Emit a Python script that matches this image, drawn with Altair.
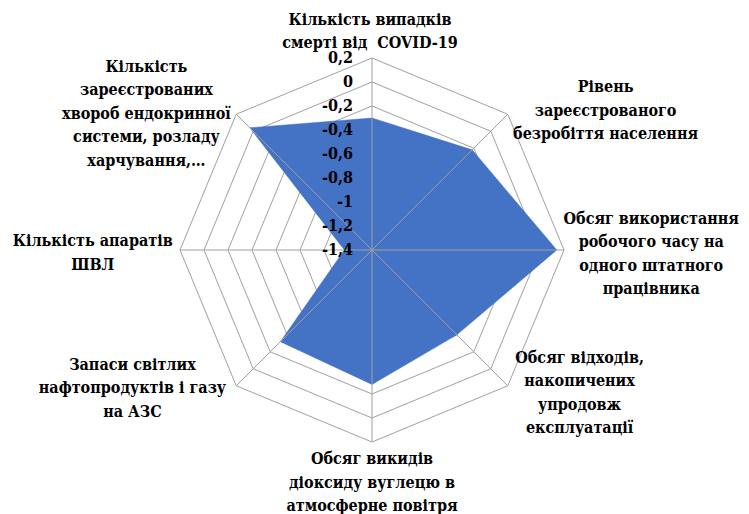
import math
import altair as alt
import pandas as pd

# ---------------- data ----------------
CATEGORIES = [
    "Кількість випадків\nсмерті від\u00a0 COVID-19",
    "Рівень\nзареєстрованого\nбезробіття населення",
    "Обсяг використання\nробочого часу на\nодного штатного\nпрацівника",
    "Обсяг відходів,\nнакопичених\nупродовж\nексплуатації",
    "Обсяг викидів\nдіоксиду вуглецю в\nатмосферне повітря",
    "Запаси світлих\nнафтопродуктів і газу\nна АЗС",
    "Кількість апаратів\nШВЛ",
    "Кількість\nзареєстрованих\nхвороб ендокринної\nсистеми, розладу\nхарчування,…",
]
VALUES = [-0.30, -0.22, 0.14, -0.40, -0.28, -0.32, -1.17, 0.04]
TICKS = [0.2, 0, -0.2, -0.4, -0.6, -0.8, -1, -1.2, -1.4]
R_MIN, R_MAX = -1.4, 0.2

# ---------------- layout / style ----------------
W, H = 733, 506
CX, CY = 364, 242          # centre of the radar in plot pixels
RAD = 192                  # outer ring radius in pixels
FILL = "#4472C4"
GRID = "#A0A0A0"
FONT = "DejaVu Serif Condensed"
FS = 16
LH = 23.5
LABEL_RX, LABEL_RY = 1.47, 1.18
# pixel nudges of label block centres (layout only)
LABEL_NUDGE = [(-2, 8), (34, 21), (-3, 4), (8, -17), (0, 6), (-40, -22), (3, 3), (-26, 24)]

N = len(CATEGORIES)
xdom = [-CX / RAD, (W - CX) / RAD]
ydom = [-(H - CY) / RAD, CY / RAD]
xs = alt.Scale(domain=xdom, nice=False, zero=False)
ys = alt.Scale(domain=ydom, nice=False, zero=False)
noax = None

# polygon data (closed)
poly = pd.DataFrame({
    "i": list(range(N)) + [N],
    "v": VALUES + [VALUES[0]],
})
poly_chart = alt.Chart(poly).transform_calculate(
    r=f"(datum.v - ({R_MIN})) / ({R_MAX} - ({R_MIN}))",
    a=f"datum.i * 2 * PI / {N}",
).transform_calculate(
    px="datum.r * sin(datum.a)", py="datum.r * cos(datum.a)"
).mark_line(fill=FILL, stroke=FILL, strokeWidth=0.5, interpolate="linear").encode(
    x=alt.X("px:Q", scale=xs, axis=noax),
    y=alt.Y("py:Q", scale=ys, axis=noax),
    order="i:Q",
)

# ring data
rings = pd.DataFrame([
    {"t": t, "k": k} for t in TICKS for k in range(N + 1)
])
ring_chart = alt.Chart(rings).transform_calculate(
    r=f"(datum.t - ({R_MIN})) / ({R_MAX} - ({R_MIN}))",
    a=f"datum.k * 2 * PI / {N}",
).transform_calculate(
    px="datum.r * sin(datum.a)", py="datum.r * cos(datum.a)"
).mark_line(color=GRID, strokeWidth=1).encode(
    x=alt.X("px:Q", scale=xs, axis=noax),
    y=alt.Y("py:Q", scale=ys, axis=noax),
    detail="t:N",
    order="k:Q",
)

# spokes
spokes = pd.DataFrame({"k": list(range(N))})
spoke_chart = alt.Chart(spokes).transform_calculate(
    a=f"datum.k * 2 * PI / {N}",
    x0="0", y0="0",
).transform_calculate(
    x1="sin(datum.a)", y1="cos(datum.a)"
).mark_rule(color=GRID, strokeWidth=1).encode(
    x=alt.X("x0:Q", scale=xs, axis=noax),
    y=alt.Y("y0:Q", scale=ys, axis=noax),
    x2="x1:Q", y2="y1:Q",
)

# tick labels
tick_df = pd.DataFrame({
    "t": TICKS,
    "lab": [f"{t:g}".replace(".", ",") for t in TICKS],
})
tick_chart = alt.Chart(tick_df).transform_calculate(
    py=f"(datum.t - ({R_MIN})) / ({R_MAX} - ({R_MIN}))",
    px="0",
).mark_text(align="right", baseline="middle", dx=-19, font=FONT, fontSize=FS,
            fontWeight="bold", color="#000000").encode(
    x=alt.X("px:Q", scale=xs, axis=noax),
    y=alt.Y("py:Q", scale=ys, axis=noax),
    text="lab:N",
)

# category labels (first-line anchor so that the block is centred)
lab_rows = []
for k, name in enumerate(CATEGORIES):
    a = k * 2 * math.pi / N
    nx, ny = LABEL_NUDGE[k]
    nlines = name.count("\n") + 1
    shift = (nlines - 1) / 2 * LH
    lab_rows.append({
        "name": name,
        "lx": LABEL_RX * math.sin(a) + nx / RAD,
        "ly": LABEL_RY * math.cos(a) - (ny - shift) / RAD,
    })
lab_df = pd.DataFrame(lab_rows)
lab_chart = alt.Chart(lab_df).mark_text(
    align="center", baseline="middle", lineBreak="\n", lineHeight=LH,
    font=FONT, fontSize=FS, fontWeight="bold", color="#000000",
).encode(
    x=alt.X("lx:Q", scale=xs, axis=noax),
    y=alt.Y("ly:Q", scale=ys, axis=noax),
    text="name:N",
)

chart = alt.layer(ring_chart, poly_chart, spoke_chart, tick_chart, lab_chart).properties(
    width=W, height=H, padding=0, autosize=alt.AutoSizeParams(type="none"),
    background="#FFFFFF",
).configure_view(stroke=None)

chart.save("out.html", embed_options={"renderer": "svg", "actions": False})
